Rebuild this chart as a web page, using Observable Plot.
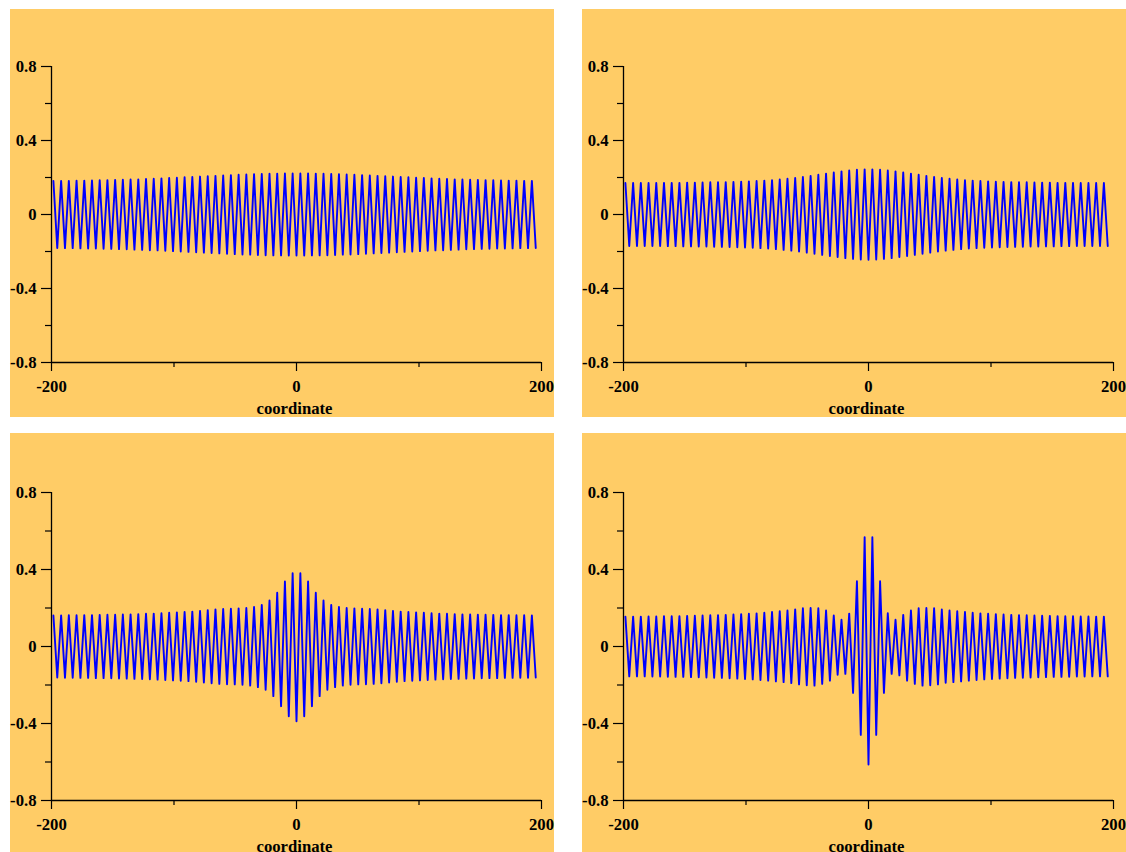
<!DOCTYPE html>
<html>
<head>
<meta charset="utf-8">
<script src="https://cdn.jsdelivr.net/npm/d3@7"></script>
<script src="https://cdn.jsdelivr.net/npm/@observablehq/plot@0.6"></script>
<style>
  html, body { margin: 0; padding: 0; background: #ffffff; width: 1126px; height: 852px; overflow: hidden; }
  .panel { position: absolute; }
</style>
</head>
<body>
<div id="p1" class="panel" style="left:10px; top:9px;"></div>
<div id="p2" class="panel" style="left:582px; top:9px;"></div>
<div id="p3" class="panel" style="left:10px; top:433px;"></div>
<div id="p4" class="panel" style="left:582px; top:433px;"></div>
<script>
// lattice site coordinates
const coordinate = [
-198.45,-195.3,-192.15,-189,-185.85,-182.7,-179.55,-176.4,-173.25,-170.1,
-166.95,-163.8,-160.65,-157.5,-154.35,-151.2,-148.05,-144.9,-141.75,-138.6,
-135.45,-132.3,-129.15,-126,-122.85,-119.7,-116.55,-113.4,-110.25,-107.1,
-103.95,-100.8,-97.65,-94.5,-91.35,-88.2,-85.05,-81.9,-78.75,-75.6,
-72.45,-69.3,-66.15,-63,-59.85,-56.7,-53.55,-50.4,-47.25,-44.1,
-40.95,-37.8,-34.65,-31.5,-28.35,-25.2,-22.05,-18.9,-15.75,-12.6,
-9.45,-6.3,-3.15,0,
3.15,6.3,9.45,12.6,15.75,18.9,22.05,25.2,28.35,31.5,
34.65,37.8,40.95,44.1,47.25,50.4,53.55,56.7,59.85,63,
66.15,69.3,72.45,75.6,78.75,81.9,85.05,88.2,91.35,94.5,
97.65,100.8,103.95,107.1,110.25,113.4,116.55,119.7,122.85,126,
129.15,132.3,135.45,138.6,141.75,144.9,148.05,151.2,154.35,157.5,
160.65,163.8,166.95,170.1,173.25,176.4,179.55,182.7,185.85,189,
192.15,195.3
];

const panel1 = [
.181,-.181,.182,-.182,.182,-.182,.183,-.183,.183,-.184,
.184,-.184,.185,-.185,.186,-.186,.187,-.187,.188,-.188,
.189,-.190,.190,-.191,.192,-.193,.193,-.194,.195,-.196,
.197,-.198,.199,-.200,.201,-.202,.203,-.204,.205,-.206,
.207,-.208,.209,-.210,.211,-.212,.213,-.214,.215,-.216,
.216,-.217,.218,-.219,.219,-.220,.220,-.221,.221,-.221,
.222,-.222,.222,-.222,
.222,-.222,.222,-.221,.221,-.221,.220,-.220,.219,-.219,
.218,-.217,.216,-.216,.215,-.214,.213,-.212,.211,-.210,
.209,-.208,.207,-.206,.205,-.204,.203,-.202,.201,-.200,
.199,-.198,.197,-.196,.195,-.194,.193,-.193,.192,-.191,
.190,-.190,.189,-.188,.188,-.187,.187,-.186,.186,-.185,
.185,-.184,.184,-.184,.183,-.183,.183,-.182,.182,-.182,
.182,-.181
];

const panel2 = [
.170,-.170,.170,-.170,.170,-.170,.170,-.170,.170,-.170,
.171,-.171,.171,-.171,.171,-.172,.172,-.172,.172,-.173,
.173,-.173,.174,-.174,.174,-.175,.175,-.176,.176,-.177,
.177,-.178,.179,-.180,.181,-.182,.183,-.184,.185,-.187,
.189,-.191,.193,-.195,.197,-.200,.203,-.206,.209,-.212,
.215,-.218,.221,-.224,.227,-.230,.233,-.236,.238,-.240,
.242,-.243,.244,-.245,
.244,-.243,.242,-.240,.238,-.236,.233,-.230,.227,-.224,
.221,-.218,.215,-.212,.209,-.206,.203,-.200,.197,-.195,
.193,-.191,.189,-.187,.185,-.184,.183,-.182,.181,-.180,
.179,-.178,.177,-.177,.176,-.176,.175,-.175,.174,-.174,
.174,-.173,.173,-.173,.172,-.172,.172,-.172,.171,-.171,
.171,-.171,.171,-.170,.170,-.170,.170,-.170,.170,-.170,
.170,-.170
];

const panel3 = [
.161,-.161,.161,-.162,.162,-.162,.162,-.163,.163,-.163,
.163,-.164,.164,-.164,.165,-.165,.165,-.166,.166,-.167,
.167,-.168,.168,-.169,.170,-.170,.171,-.172,.173,-.174,
.175,-.176,.177,-.178,.179,-.180,.181,-.183,.185,-.187,
.189,-.191,.193,-.194,.195,-.196,.196,-.197,.198,-.199,
.200,-.203,.205,-.211,.216,-.225,.239,-.258,.279,-.310,
.338,-.362,.381,-.388,
.381,-.362,.338,-.310,.279,-.258,.239,-.225,.216,-.211,
.205,-.203,.200,-.199,.198,-.197,.196,-.196,.195,-.194,
.193,-.191,.189,-.187,.185,-.183,.181,-.180,.179,-.178,
.177,-.176,.175,-.174,.173,-.172,.171,-.170,.170,-.169,
.168,-.168,.167,-.167,.166,-.166,.165,-.165,.165,-.164,
.164,-.164,.163,-.163,.163,-.163,.162,-.162,.162,-.162,
.161,-.161
];

const panel4 = [
.155,-.155,.155,-.155,.155,-.155,.156,-.156,.156,-.156,
.157,-.157,.157,-.158,.158,-.158,.159,-.159,.160,-.160,
.161,-.161,.162,-.162,.163,-.163,.164,-.165,.166,-.167,
.168,-.169,.170,-.171,.172,-.174,.175,-.177,.179,-.181,
.183,-.185,.187,-.190,.193,-.197,.199,-.201,.200,-.203,
.199,-.194,.187,-.177,.161,-.147,.139,-.142,.171,-.241,
.339,-.459,.568,-.613,
.568,-.459,.339,-.241,.173,-.142,.139,-.150,.164,-.177,
.187,-.194,.199,-.203,.200,-.201,.199,-.197,.192,-.188,
.187,-.185,.183,-.181,.179,-.177,.175,-.174,.172,-.171,
.170,-.169,.168,-.167,.166,-.165,.164,-.163,.163,-.162,
.162,-.161,.161,-.160,.160,-.159,.159,-.158,.158,-.158,
.157,-.157,.157,-.156,.156,-.156,.156,-.155,.155,-.155,
.155,-.155
];

const xMajorTicks = [-200, 0, 200];
const xMinorTicks = [-100, 100];
const yMajorTicks = [-0.8, -0.4, 0, 0.4, 0.8];
const yMinorTicks = [-0.6, -0.2, 0.2, 0.6];
const xLabel = "coordinate";

function fmt(d) { return d === 0 ? "0" : String(d); }

function makePanel(values, height, marginTop, marginBottom) {
  const rows = coordinate.map((c, i) => ({coordinate: c, value: values[i]}));
  return Plot.plot({
    width: 544,
    height,
    marginLeft: 41,
    marginRight: 13,
    marginTop,
    marginBottom,
    style: {
      background: "#FFCC66",
      fontFamily: "'Liberation Serif', 'Times New Roman', serif",
      fontSize: "16.7px",
      fontWeight: "bold",
      color: "black",
      overflow: "visible"
    },
    x: {domain: [-200, 200], label: null},
    y: {domain: [-0.8, 0.8], label: null},
    marks: [
      Plot.ruleX([-200], {stroke: "black", strokeWidth: 1.3}),
      Plot.ruleY([-0.8], {stroke: "black", strokeWidth: 1.3}),
      Plot.axisY(yMajorTicks, {tickSize: 10, tickPadding: 5, tickFormat: fmt, label: null, strokeWidth: 1.2}),
      Plot.axisY(yMinorTicks, {tickSize: 6, tickFormat: () => "", label: null, strokeWidth: 1.2}),
      Plot.axisX(xMajorTicks, {tickSize: 9, tickPadding: 9, tickFormat: fmt, label: null, strokeWidth: 1.2}),
      Plot.axisX(xMinorTicks, {tickSize: 5, tickFormat: () => "", label: null, strokeWidth: 1.2}),
      Plot.line(rows, {x: "coordinate", y: "value", stroke: "#0000FF", strokeWidth: 1.9}),
      Plot.text([xLabel], {x: 0, y: -0.8, dy: 46, dx: -2, text: d => d, fontSize: 16.7, fontWeight: "bold"})
    ]
  });
}

document.getElementById("p1").appendChild(makePanel(panel1, 408, 57, 55));
document.getElementById("p2").appendChild(makePanel(panel2, 408, 57, 55));
document.getElementById("p3").appendChild(makePanel(panel3, 424, 59, 57));
document.getElementById("p4").appendChild(makePanel(panel4, 424, 59, 57));
</script>
</body>
</html>
